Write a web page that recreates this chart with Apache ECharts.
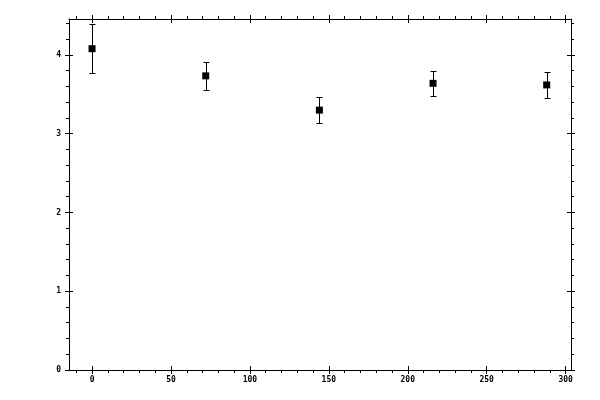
<!DOCTYPE html>
<html><head><meta charset="utf-8">
<script src="https://cdn.jsdelivr.net/npm/echarts@6/dist/echarts.min.js"></script>
<style>html,body{margin:0;padding:0;background:#fff}#c{width:600px;height:400px}</style>
</head><body><div id="c"></div>
<script>
const xValues = [0, 72, 144, 216, 288];
const yValues = [4.08, 3.735, 3.30, 3.64, 3.62];
const yErrors = [0.31, 0.18, 0.165, 0.16, 0.165];
const xMajorTicks = [0, 50, 100, 150, 200, 250, 300];
const xMinorTicks = [-10, 10, 20, 30, 40, 60, 70, 80, 90, 110, 120, 130, 140, 160, 170, 180, 190, 210, 220, 230, 240, 260, 270, 280, 290];
const yMajorTicks = [0, 1, 2, 3, 4];
const yMinorTicks = [0.2, 0.4, 0.6, 0.8, 1.2, 1.4, 1.6, 1.8, 2.2, 2.4, 2.6, 2.8, 3.2, 3.4, 3.6, 3.8, 4.2, 4.4];
const xRange = [-14.6, 303.4];
const yRange = [0, 4.457];

const labelFont = { fontFamily: 'DejaVu Sans Mono', fontSize: 8, fontWeight: 'bold', color: '#000' };

function axis(kind, pos, ticks, inside, len, showLine, showLabel, margin) {
  const range = kind === 'x' ? xRange : yRange;
  return {
    type: 'value', position: pos, min: range[0], max: range[1],
    axisLine: { show: showLine, onZero: false, lineStyle: { color: '#000', width: 1 } },
    axisTick: { show: true, inside: inside, length: len, customValues: ticks, lineStyle: { color: '#000', width: 1 } },
    axisLabel: showLabel ? Object.assign({ show: true, margin: margin, customValues: ticks, formatter: v => String(v) }, labelFont) : { show: false },
    splitLine: { show: false }, minorTick: { show: false }, minorSplitLine: { show: false }
  };
}

const xAxes = [
  axis('x', 'bottom', xMajorTicks, false, 4, true, true, 6),
  axis('x', 'bottom', xMajorTicks, true, 4, false, false),
  axis('x', 'bottom', xMinorTicks, false, 3, false, false),
  axis('x', 'top', xMajorTicks, false, 4, true, false),
  axis('x', 'top', xMajorTicks, true, 4, false, false),
  axis('x', 'top', xMinorTicks, false, 3, false, false)
];
const yAxes = [
  axis('y', 'left', yMajorTicks, false, 4, true, true, 8),
  axis('y', 'left', yMajorTicks, true, 4, false, false),
  axis('y', 'left', yMinorTicks, false, 3, false, false),
  axis('y', 'right', yMajorTicks, false, 4, true, false),
  axis('y', 'right', yMajorTicks, true, 4, false, false),
  axis('y', 'right', yMinorTicks, false, 3, false, false)
];

const pointData = xValues.map((x, i) => [x, yValues[i]]);
const errData = xValues.map((x, i) => [x, yValues[i], yValues[i] - yErrors[i], yValues[i] + yErrors[i]]);

const chart = echarts.init(document.getElementById('c'), null, { renderer: 'canvas' });
chart.setOption({
  animation: false,
  backgroundColor: '#fff',
  grid: { left: 69, right: 29, top: 19, bottom: 30, containLabel: false },
  xAxis: xAxes,
  yAxis: yAxes,
  series: [
    {
      type: 'custom', xAxisIndex: 0, yAxisIndex: 0,
      encode: { x: 0, y: [1, 2, 3] },
      data: errData,
      renderItem: function (params, api) {
        const lo = api.coord([api.value(0), api.value(2)]);
        const hi = api.coord([api.value(0), api.value(3)]);
        const x = Math.round(lo[0]) + 0.5;
        const yl = Math.round(lo[1]) + 0.5;
        const yh = Math.round(hi[1]) + 0.5;
        const st = { stroke: '#000', lineWidth: 1 };
        return {
          type: 'group',
          children: [
            { type: 'line', shape: { x1: x, y1: yl, x2: x, y2: yh }, style: st },
            { type: 'line', shape: { x1: x - 3, y1: yl, x2: x + 3, y2: yl }, style: st },
            { type: 'line', shape: { x1: x - 3, y1: yh, x2: x + 3, y2: yh }, style: st }
          ]
        };
      }
    },
    {
      type: 'scatter', xAxisIndex: 0, yAxisIndex: 0,
      symbol: 'rect', symbolSize: 7,
      itemStyle: { color: '#000', opacity: 1 },
      data: pointData, z: 5
    }
  ]
});
</script></body></html>
